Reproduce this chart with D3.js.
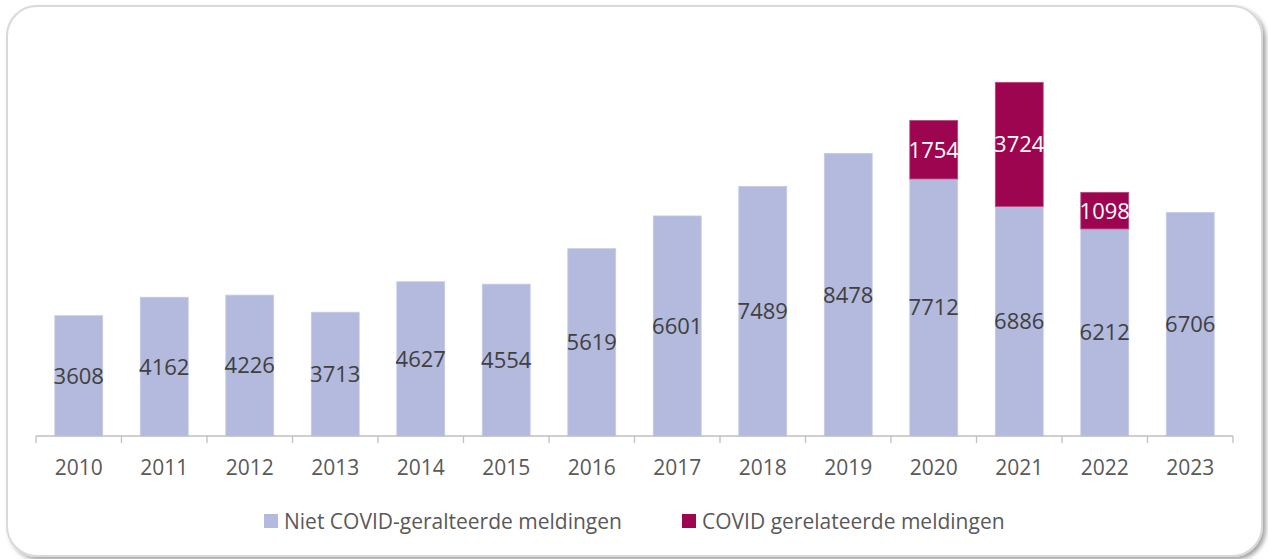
<!DOCTYPE html>
<html>
<head>
<meta charset="utf-8">
<script src="https://cdn.jsdelivr.net/npm/d3@7"></script>
<style>
  body { margin: 0; background: #fff; }
  svg text { font-family: "Open Sans", "Noto Sans", sans-serif; }
</style>
</head>
<body>
<div id="chart"></div>
<script>
var years = ["2010","2011","2012","2013","2014","2015","2016","2017","2018","2019","2020","2021","2022","2023"];
var nietCovid = [3608, 4162, 4226, 3713, 4627, 4554, 5619, 6601, 7489, 8478, 7712, 6886, 6212, 6706];
var covid = [0, 0, 0, 0, 0, 0, 0, 0, 0, 0, 1754, 3724, 1098, 0];
var legendLabels = ["Niet COVID-geralteerde meldingen", "COVID gerelateerde meldingen"];
var colors = ["#b3badd", "#9e0550"];

var W = 1268, H = 559;
var svg = d3.select("#chart").append("svg").attr("width", W).attr("height", H);

var defs = svg.append("defs");
var f = defs.append("filter").attr("id", "shadow").attr("x", "-5%").attr("y", "-5%").attr("width", "110%").attr("height", "110%");
f.append("feDropShadow").attr("dx", 3).attr("dy", 3).attr("stdDeviation", 2).attr("flood-color", "#000").attr("flood-opacity", 0.35);

svg.append("rect")
  .attr("x", 7).attr("y", 6).attr("width", 1255).attr("height", 550)
  .attr("rx", 30).attr("ry", 30)
  .attr("fill", "#fff").attr("stroke", "#d9d9d9").attr("stroke-width", 2)
  .attr("filter", "url(#shadow)");

var x = d3.scaleBand().domain(years).range([36, 1233]).paddingInner(0.44).paddingOuter(0.22);
var y = d3.scaleLinear().domain([0, 12000]).range([436, 36]);

var stackData = years.map(function(yr, i){ return {year: yr, niet: nietCovid[i], covid: covid[i]}; });
var series = d3.stack().keys(["niet", "covid"])(stackData);

var g = svg.append("g");
series.forEach(function(s, si){
  var grp = g.append("g");
  grp.selectAll("rect").data(s.filter(function(d){ return d[1] - d[0] > 0; })).enter()
    .append("rect")
    .attr("x", function(d){ return x(d.data.year); })
    .attr("width", x.bandwidth())
    .attr("y", function(d){ return y(d[1]); })
    .attr("height", function(d){ return y(d[0]) - y(d[1]); })
    .attr("fill", colors[si])
    .attr("stroke", si == 0 ? "#c4cae6" : "#b54a7e").attr("stroke-width", 0.8);
  grp.selectAll("text").data(s.filter(function(d){ return d[1] - d[0] > 0; })).enter()
    .append("text")
    .attr("x", function(d){ return x(d.data.year) + x.bandwidth() / 2; })
    .attr("y", function(d){ return (y(d[0]) + y(d[1])) / 2; })
    .attr("dy", "0.36em")
    .attr("text-anchor", "middle")
    .attr("font-size", 22)
    .attr("fill", si == 0 ? "#404040" : "#ffffff")
    .text(function(d){ return d[1] - d[0]; });
});

// axis
var axisG = svg.append("g").attr("transform", "translate(0,436)");
axisG.append("line").attr("x1", 36).attr("x2", 1233).attr("stroke", "#bfbfbf").attr("stroke-width", 1.3);
var tickPos = years.map(function(yr){ return x(yr) - x.step() * x.paddingInner() / 2; });
tickPos.push(1233);
axisG.selectAll(".tick").data(tickPos).enter().append("line")
  .attr("x1", function(d){ return d; }).attr("x2", function(d){ return d; })
  .attr("y1", 0).attr("y2", 7).attr("stroke", "#bfbfbf").attr("stroke-width", 1.3);
axisG.selectAll(".lbl").data(years).enter().append("text")
  .attr("x", function(d){ return x(d) + x.bandwidth() / 2; })
  .attr("y", 31).attr("dy", "0.36em")
  .attr("text-anchor", "middle").attr("font-size", 21).attr("fill", "#595959")
  .text(function(d){ return d; });

// legend
var legX = [264, 682];
var leg = svg.append("g");
legendLabels.forEach(function(l, i){
  leg.append("rect").attr("x", legX[i]).attr("y", 514).attr("width", 14).attr("height", 14).attr("fill", colors[i]);
  leg.append("text").attr("x", legX[i] + 20).attr("y", 521).attr("dy", "0.36em")
    .attr("font-size", 21).attr("fill", "#595959").text(l);
});
</script>
</body>
</html>
